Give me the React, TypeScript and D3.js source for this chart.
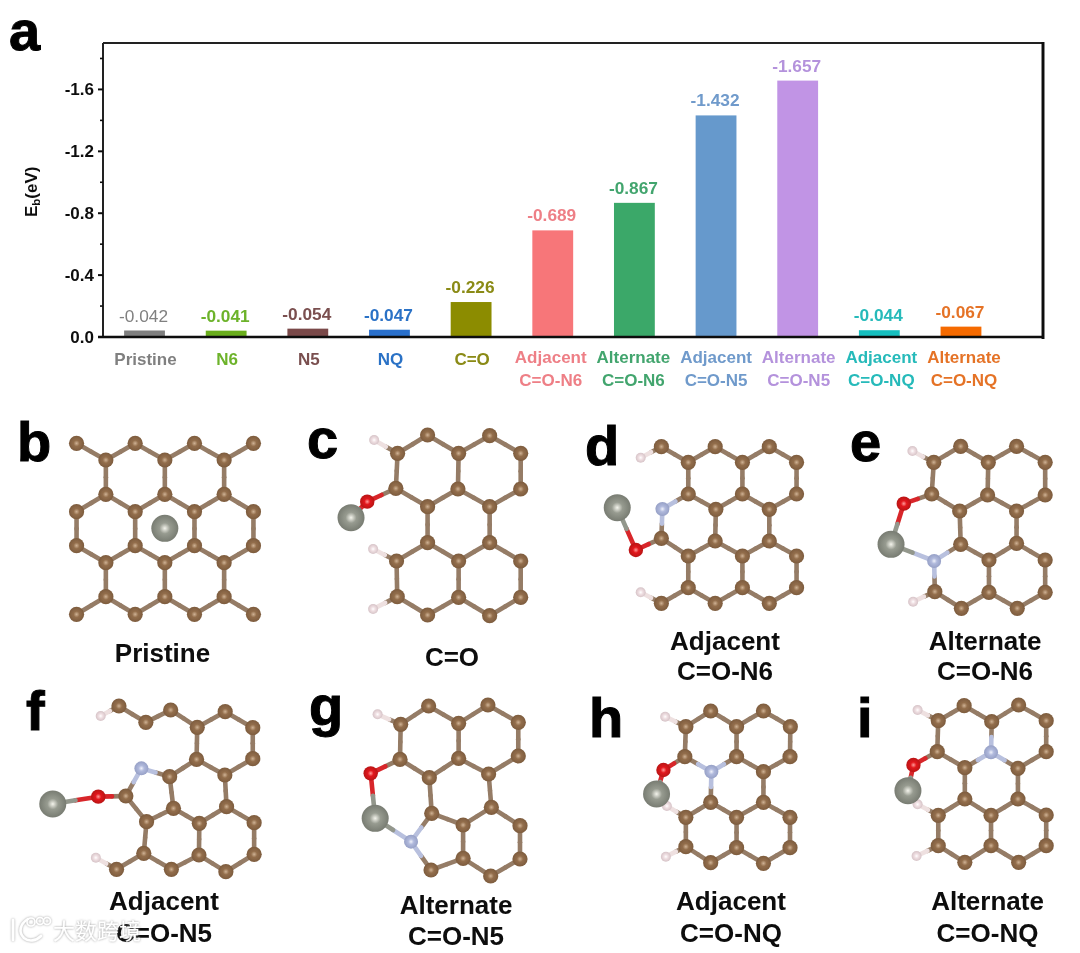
import React from 'react';
import * as d3 from 'd3';

type Pt = [number, number];
interface Panel {
  C: Pt[];
  N: Pt[];
  O: Pt[];
  H: Pt[];
  M: Pt[];
  metalTo: string[];
  crop: Pt;
}

const categories = ['Pristine', 'N6', 'N5', 'NQ', 'C=O', 'Adj-N6', 'Alt-N6', 'Adj-N5', 'Alt-N5', 'Adj-NQ', 'Alt-NQ'];
const energies = [-0.042, -0.041, -0.054, -0.047, -0.226, -0.689, -0.867, -1.432, -1.657, -0.044, -0.067];
const barColors = ['#7f7f7f', '#6aae1e', '#7a4a4a', '#2a70cc', '#8c8c00', '#f77679', '#3aa869', '#6699cc', '#c194e5', '#17bfbf', '#f56a00'];
const labelColors = ['#808080', '#6db32c', '#7a4f4f', '#2c72c6', '#8a8a14', '#ee7f86', '#43a56e', '#6f9acb', '#b492dc', '#25baba', '#e57328'];
const tickLines: string[][] = [['Pristine'], ['N6'], ['N5'], ['NQ'], ['C=O'], ['Adjacent', 'C=O-N6'], ['Alternate', 'C=O-N6'], ['Adjacent', 'C=O-N5'], ['Alternate', 'C=O-N5'], ['Adjacent', 'C=O-NQ'], ['Alternate', 'C=O-NQ']];
const majorTicks = [0, -0.4, -0.8, -1.2, -1.6];
const minorTicks = [-0.2, -0.6, -1.0, -1.4, -1.8];

const panelB: Panel = {
  C: [[222, 115], [392, 115], [564, 115], [735, 115], [307, 165], [478, 165], [650, 165], [307, 268], [478, 268], [650, 268], [222, 320], [392, 320], [564, 320], [735, 320], [222, 422], [392, 422], [564, 422], [735, 422], [307, 473], [478, 473], [650, 473], [307, 575], [478, 575], [650, 575], [222, 628], [392, 628], [564, 628], [735, 628]],
  N: [], O: [], H: [], M: [[478, 370]], metalTo: [], crop: [0, 405],
};
const panelC: Panel = {
  C: [[1153, 145], [1240, 90], [1330, 145], [1420, 92], [1510, 145], [1148, 250], [1328, 252], [1510, 252], [1240, 305], [1420, 305], [1240, 413], [1420, 413], [1150, 468], [1330, 468], [1510, 468], [1152, 575], [1330, 577], [1510, 577], [1240, 630], [1420, 632]],
  N: [], O: [[1065, 290]], H: [[1085, 105], [1082, 432], [1082, 612]], M: [[1018, 338]], metalTo: ['O'], crop: [0, 405],
};
const panelD: Panel = {
  C: [[352, 125], [508, 125], [665, 125], [430, 172], [587, 172], [744, 172], [430, 267], [587, 267], [744, 267], [510, 313], [665, 313], [352, 400], [508, 408], [665, 408], [430, 453], [587, 453], [744, 453], [430, 548], [587, 548], [744, 548], [352, 595], [508, 595], [665, 595]],
  N: [[355, 312]], O: [[278, 435]], H: [[292, 158], [292, 562]], M: [[224, 308]], metalTo: ['O'], crop: [540, 405],
};
const panelE: Panel = {
  C: [[1220, 124], [1382, 124], [1142, 172], [1300, 172], [1465, 172], [1136, 267], [1298, 270], [1465, 270], [1217, 318], [1382, 318], [1220, 418], [1382, 415], [1302, 465], [1465, 465], [1145, 560], [1302, 562], [1465, 562], [1222, 610], [1384, 610]],
  N: [[1143, 468]], O: [[1055, 296]], H: [[1080, 138], [1082, 590]], M: [[1018, 418]], metalTo: ['O', 'N'], crop: [540, 405],
};
const panelF: Panel = {
  C: [[345, 78], [423, 127], [495, 90], [572, 142], [653, 95], [733, 143], [570, 238], [733, 236], [492, 290], [652, 285], [365, 348], [503, 385], [657, 380], [425, 425], [578, 430], [737, 428], [417, 520], [577, 525], [737, 523], [338, 568], [497, 568], [655, 575]],
  N: [[410, 265]], O: [[285, 350]], H: [[292, 108], [278, 533]], M: [[153, 372]], metalTo: ['O'], crop: [0, 680],
};
const panelG: Panel = {
  C: [[1243, 78], [1415, 75], [1162, 133], [1330, 130], [1503, 127], [1160, 238], [1330, 235], [1503, 228], [1245, 293], [1417, 282], [1252, 400], [1425, 382], [1343, 435], [1508, 437], [1343, 535], [1508, 537], [1250, 570], [1423, 588]],
  N: [[1192, 485]], O: [[1075, 280]], H: [[1095, 103]], M: [[1088, 415]], metalTo: ['O', 'N'], crop: [0, 680],
};
const panelH: Panel = {
  C: [[495, 93], [648, 93], [423, 140], [570, 140], [726, 140], [420, 230], [570, 230], [725, 230], [648, 275], [495, 367], [648, 367], [423, 412], [570, 412], [725, 412], [423, 500], [570, 503], [725, 503], [495, 548], [648, 550]],
  N: [[497, 275]], O: [[358, 270]], H: [[363, 110], [368, 378], [365, 530]], M: [[338, 342]], metalTo: ['O'], crop: [540, 680],
};
const panelI: Panel = {
  C: [[1230, 77], [1388, 75], [1155, 122], [1310, 125], [1468, 122], [1152, 215], [1468, 215], [1232, 263], [1386, 265], [1232, 357], [1386, 357], [1155, 406], [1308, 406], [1468, 405], [1155, 497], [1308, 497], [1468, 497], [1232, 547], [1388, 547]],
  N: [[1308, 217]], O: [[1083, 255]], H: [[1095, 90], [1095, 373], [1092, 528]], M: [[1067, 332]], metalTo: ['O'], crop: [540, 680],
};
const panels = [panelB, panelC, panelD, panelE, panelF, panelG, panelH, panelI];

const panelLetters: [string, number, number][] = [['a', 9, 50], ['b', 17, 461], ['c', 307, 458], ['d', 585, 465], ['e', 850, 461], ['f', 26, 730], ['g', 309, 725], ['h', 589, 737], ['i', 857, 737]];
const captions: [string, number, number][] = [
  ['Pristine', 162.5, 662], ['C=O', 452, 666],
  ['Adjacent', 725, 650], ['C=O-N6', 725, 680], ['Alternate', 985, 650], ['C=O-N6', 985, 680],
  ['Adjacent', 164, 910], ['C=O-N5', 164, 942], ['Alternate', 456, 914], ['C=O-N5', 456, 945],
  ['Adjacent', 731, 910], ['C=O-NQ', 731, 942], ['Alternate', 987.5, 910], ['C=O-NQ', 987.5, 942],
];

const FONT = '"Liberation Sans", Arial, sans-serif';
const W = 1080;
const H = 953;
const plot = {left: 103, right: 1043, top: 43, bottom: 337};

const x = d3.scaleBand<string>().domain(categories).range([103.7, 1001.8]).paddingInner(0.5).paddingOuter(0.25);
const y = d3.scaleLinear().domain([0, -1.9]).range([plot.bottom, plot.top]);

const elementStyle: Record<string, {r: number; bond: string; grad: string[]}> = {
  C: {r: 7.6, bond: '#957c66', grad: ['#cfb294', '#936e4c', '#7d5c3e']},
  N: {r: 7, bond: '#b8c0de', grad: ['#f0f2fb', '#b0b9dc', '#96a0c6']},
  O: {r: 7.2, bond: '#d8262a', grad: ['#ff9a9a', '#e2191c', '#b81216']},
  H: {r: 5, bond: '#eee0e0', grad: ['#ffffff', '#f0e0e3', '#d6c3c7']},
  M: {r: 13.5, bond: '#93978c', grad: ['#f4f4ec', '#979b90', '#787c72']},
};

const bondLimit = (a: string, b: string) => {
  if (a === 'H' || b === 'H') return a === 'C' || b === 'C' ? 32 : 0;
  if (a === 'O' || b === 'O') return a === 'C' || b === 'C' ? 36 : 0;
  return 42;
};

const Molecule = ({panel}: {panel: Panel}) => {
  const [ox, oy] = panel.crop;
  const cropX = d3.scaleLinear().domain([0, 1566]).range([ox, ox + 540]);
  const cropY = d3.scaleLinear().domain([0, 825]).range([oy, oy + 275]);
  const atoms = (['C', 'N', 'O', 'H', 'M'] as const).flatMap(el =>
    panel[el].map(p => ({el, px: cropX(p[0]), py: cropY(p[1])})),
  );
  const bonds: {a: (typeof atoms)[0]; b: (typeof atoms)[0]}[] = [];
  atoms.forEach((a, i) => {
    atoms.slice(i + 1).forEach(b => {
      if (a.el === 'M' || b.el === 'M') {
        const other = a.el === 'M' ? b.el : a.el;
        if (panel.metalTo.includes(other)) bonds.push({a, b});
      } else if (Math.hypot(a.px - b.px, a.py - b.py) < bondLimit(a.el, b.el)) {
        bonds.push({a, b});
      }
    });
  });
  const drawOrder = ['H', 'M', 'C', 'N', 'O'];
  return (
    <g>
      {bonds.map(({a, b}, i) => {
        const mx = (a.px + b.px) / 2;
        const my = (a.py + b.py) / 2;
        return (
          <g key={i} strokeWidth={4.6} strokeLinecap="round">
            <line x1={a.px} y1={a.py} x2={mx} y2={my} stroke={elementStyle[a.el].bond} />
            <line x1={mx} y1={my} x2={b.px} y2={b.py} stroke={elementStyle[b.el].bond} />
          </g>
        );
      })}
      {drawOrder.flatMap(el =>
        atoms
          .filter(a => a.el === el)
          .map((a, i) => <circle key={el + i} cx={a.px} cy={a.py} r={elementStyle[el].r} fill={`url(#atom-${el})`} />),
      )}
    </g>
  );
};

export default function App() {
  return (
    <svg width={W} height={H} viewBox={`0 0 ${W} ${H}`} fontFamily={FONT} style={{position: 'absolute', left: 0, top: 0, display: 'block', background: '#fff'}}>
      <defs>
        {Object.entries(elementStyle).map(([el, s]) => (
          <radialGradient key={el} id={`atom-${el}`} cx="50%" cy="50%" r="50%">
            <stop offset="0%" stopColor={s.grad[0]} />
            <stop offset="40%" stopColor={s.grad[1]} />
            <stop offset="100%" stopColor={s.grad[2]} />
          </radialGradient>
        ))}
        <filter id="soft" x="0" y="0" width="100%" height="100%">
          <feGaussianBlur stdDeviation="0.6" />
        </filter>
        <filter id="glow" x="-10%" y="-30%" width="120%" height="160%">
          <feDropShadow dx="0" dy="0" stdDeviation="1.2" floodColor="#8a8a8a" floodOpacity="0.9" />
        </filter>
      </defs>
      <g filter="url(#soft)">
        {/* bars */}
        {categories.map((c, i) => (
          <rect key={c} x={x(c)} y={y(energies[i])} width={x.bandwidth()} height={y(0) - y(energies[i])} fill={barColors[i]} />
        ))}
        {/* frame */}
        <line x1={plot.left} x2={plot.right} y1={plot.top} y2={plot.top} stroke="#222" strokeWidth={2} />
        <line x1={plot.left} x2={plot.left} y1={plot.top} y2={plot.bottom} stroke="#222" strokeWidth={2} />
        <line x1={plot.right} x2={plot.right} y1={plot.top - 1} y2={plot.bottom + 2} stroke="#111" strokeWidth={3} />
        <line x1={plot.left - 5} x2={plot.right} y1={plot.bottom} y2={plot.bottom} stroke="#111" strokeWidth={2.6} />
        {/* y axis */}
        {majorTicks.map(t => (
          <g key={t}>
            <line x1={plot.left - 5} x2={plot.left} y1={y(t)} y2={y(t)} stroke="#111" strokeWidth={2} />
            <text x={94} y={y(t) + 6} textAnchor="end" fontSize={17} fontWeight="bold" fill="#111">
              {t.toFixed(1)}
            </text>
          </g>
        ))}
        {minorTicks.map(t => (
          <line key={t} x1={plot.left - 3} x2={plot.left} y1={y(t)} y2={y(t)} stroke="#111" strokeWidth={1.6} />
        ))}
        <text transform="translate(37,217) rotate(-90)" fontSize={17} fontWeight="bold" fill="#111">
          E<tspan fontSize={11.5} dy={3}>b</tspan>
          <tspan dy={-3}>(eV)</tspan>
        </text>
        {/* value labels */}
        {categories.map((c, i) => (
          <text key={c} x={x(c)! + x.bandwidth() / 2 - 1} y={y(energies[i]) - 9} textAnchor="middle" fontSize={17.3} fontWeight={i === 0 ? 'normal' : 'bold'} fill={labelColors[i]}>
            {energies[i].toFixed(3)}
          </text>
        ))}
        {/* category labels */}
        {categories.map((c, i) =>
          tickLines[i].map((line, j) => (
            <text key={c + j} x={x(c)! + x.bandwidth() / 2 + (i < 5 ? 1 : i - 7)} y={tickLines[i].length === 1 ? 365 : 363 + j * 23} textAnchor="middle" fontSize={17} fontWeight="bold" fill={labelColors[i]}>
              {line}
            </text>
          )),
        )}
        {panels.map((p, i) => (
          <Molecule key={i} panel={p} />
        ))}
        {panelLetters.map(([l, lx, ly]) => (
          <text key={l} x={lx} y={ly} fontSize={56} fontWeight="bold" fill="#000" stroke="#000" strokeWidth={1}>
            {l}
          </text>
        ))}
        {captions.map(([t, cx, cy], i) => (
          <text key={i} x={cx} y={cy} textAnchor="middle" fontSize={26} fontWeight="bold" fill="#0a0a0a">
            {t}
          </text>
        ))}
      </g>
      {/* watermark over the lower left */}
      <g filter="url(#glow)">
        <g fill="none" stroke="#fff" strokeWidth={2.6} strokeLinecap="round">
          <path d="M13 920 V940 M28 919 C20 924 18 932 24 938 C29 942 36 941 41 936" />
          <circle cx={31} cy={922} r={4} strokeWidth={1.6} />
          <circle cx={40} cy={921} r={3.5} strokeWidth={1.6} />
          <circle cx={47} cy={921} r={3.5} strokeWidth={1.6} />
        </g>
        <text x={53} y={939} fontSize={22} fontFamily='"Noto Sans CJK SC", sans-serif' fill="#fff">
          大数跨境
        </text>
      </g>
    </svg>
  );
}
